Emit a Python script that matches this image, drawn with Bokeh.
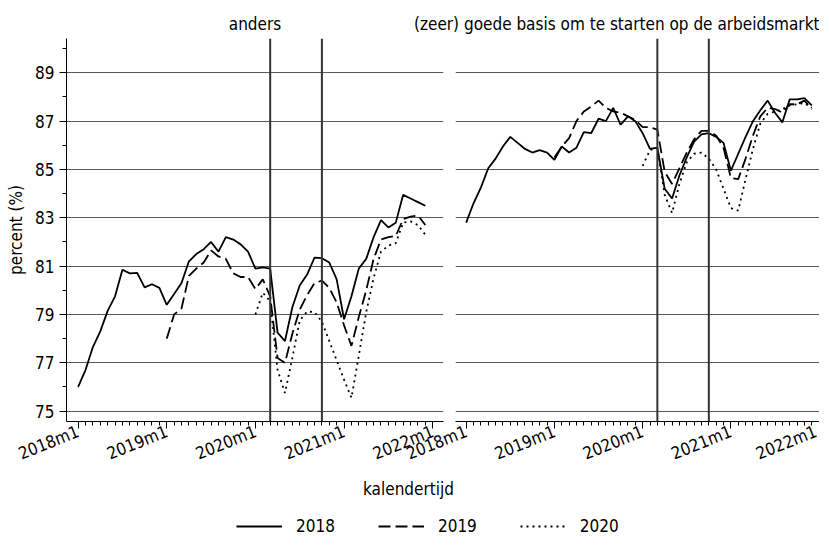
import math
from bokeh.plotting import figure
from bokeh.models import Range1d, FixedTicker, Span, Legend, LegendItem, Label, Grid
from bokeh.layouts import column, row
from bokeh.embed import file_html
from bokeh.resources import INLINE

FONT = "DejaVu Sans Condensed, Roboto"

# ---------------- data ----------------
tick_months = [0, 12, 24, 36, 48]
tick_labels = ["2018m1", "2019m1", "2020m1", "2021m1", "2022m1"]
minor_months = list(range(0, 49))
y_ticks = [75, 77, 79, 81, 83, 85, 87, 89]
y_minor = [74, 76, 78, 80, 82, 84, 86, 88, 90]
event_months = [26, 33]          # 2020m3, 2020m10
panel_titles = ["anders", "(zeer) goede basis om te starten op de arbeidsmarkt"]
cohorts = ["2018", "2019", "2020"]
cohort_start = [0, 12, 24]       # months since 2018m1

anders_2018 = [76.0, 76.7, 77.65, 78.3, 79.15, 79.75, 80.85, 80.7, 80.72, 80.12, 80.25, 80.1,
               79.4, 79.85, 80.3, 81.2, 81.5, 81.7, 82.0, 81.6, 82.2, 82.1, 81.9, 81.6,
               80.9, 80.95, 80.9, 78.25, 77.9, 79.3, 80.2, 80.65, 81.35, 81.33, 81.15, 80.45,
               78.8, 79.75, 80.9, 81.3, 82.2, 82.9, 82.6, 82.8, 83.95, 83.8, 83.65, 83.5]
anders_2019 = [78.0, 79.0, 79.25, 80.6, 80.9, 81.15, 81.65, 81.4, 81.3, 80.7, 80.55, 80.55,
               80.05, 80.45, 79.75, 77.2, 77.0, 78.2, 79.2, 79.8, 80.3, 80.4, 80.1, 79.5,
               78.55, 77.7, 78.9, 80.0, 81.3, 82.1, 82.2, 82.25, 82.95, 83.05, 83.1, 82.7]
anders_2020 = [79.0, 79.9, 79.55, 76.7, 75.75, 77.2, 78.75, 79.12, 79.1, 78.7, 77.9, 77.1,
               76.3, 75.55, 77.3, 79.1, 80.5, 81.6, 81.85, 81.95, 82.8, 82.85, 82.7, 82.3]

basis_2018 = [82.8, 83.6, 84.25, 85.05, 85.45, 85.95, 86.35, 86.1, 85.85, 85.7, 85.8, 85.7,
              85.4, 85.95, 85.7, 85.9, 86.55, 86.5, 87.1, 87.0, 87.55, 86.85, 87.2, 87.0,
              86.5, 85.85, 85.9, 84.2, 83.8, 84.75, 85.5, 86.15, 86.45, 86.5, 86.35, 86.1,
              84.95, 85.65, 86.35, 87.0, 87.45, 87.85, 87.35, 86.95, 87.9, 87.9, 87.95, 87.65]
basis_2019 = [85.5, 85.95, 86.3, 87.0, 87.4, 87.6, 87.85, 87.55, 87.4, 87.35, 87.2, 87.05,
              86.75, 86.75, 86.65, 84.9, 84.4, 85.05, 85.7, 86.25, 86.6, 86.6, 86.4, 85.9,
              84.65, 84.6, 85.45, 86.4, 87.2, 87.55, 87.5, 87.35, 87.7, 87.7, 87.85, 87.5]
basis_2020 = [85.15, 85.8, 85.9, 83.95, 83.2, 84.4, 85.3, 85.65, 85.7, 85.45, 85.0, 84.2,
              83.4, 83.3, 84.6, 85.85, 86.9, 87.3, 87.4, 87.5, 87.65, 87.7, 87.75, 87.55]

panel_series = [[anders_2018, anders_2019, anders_2020],
                [basis_2018, basis_2019, basis_2020]]

# ---------------- styles ----------------
dashes = ["solid", "12 5", "2 4"]
LINE_W = 1.8
GRID_COLOR = "#595959"
TICK_FS = "17px"
TEXT_FS = "17px"


def style_xaxis(ax):
    ax.ticker = FixedTicker(ticks=tick_months, minor_ticks=minor_months)
    ax.major_label_overrides = {m: l for m, l in zip(tick_months, tick_labels)}
    ax.major_label_orientation = math.radians(22)
    ax.axis_line_color = "black"
    ax.major_tick_line_color = "black"
    ax.minor_tick_line_color = "black"
    ax.major_tick_out = 7
    ax.major_tick_in = 0
    ax.minor_tick_out = 4
    ax.minor_tick_in = 0
    ax.major_label_standoff = 2
    ax.major_label_text_font = FONT
    ax.major_label_text_font_size = TICK_FS
    ax.major_label_text_color = "black"


def make_panel(idx, x_range, frame_w, border_left, border_right, margin):
    p = figure(frame_width=frame_w, frame_height=383, x_range=x_range,
               y_range=Range1d(74.57, 90.42),
               output_backend="svg", toolbar_location=None,
               y_axis_location="left" if idx == 0 else None,
               min_border_left=border_left, min_border_right=border_right,
               min_border_top=31, min_border_bottom=50, margin=margin)
    p.outline_line_color = None
    p.title.text = panel_titles[idx]
    p.title.align = "center" if idx == 0 else "right"
    p.title.standoff = 10
    p.title.text_font = FONT
    p.title.text_font_size = TEXT_FS
    p.title.text_font_style = "normal"
    p.title.text_color = "black"
    if idx == 1:
        p.background_fill_color = None
        p.border_fill_color = None
    p.xgrid.visible = False
    p.ygrid.visible = False
    p.add_layout(Grid(dimension=1, ticker=FixedTicker(ticks=y_ticks),
                      grid_line_color=GRID_COLOR, grid_line_width=1))
    style_xaxis(p.xaxis[0])
    if idx == 0:
        ay = p.yaxis[0]
        ay.ticker = FixedTicker(ticks=y_ticks, minor_ticks=y_minor)
        ay.axis_line_color = "black"
        ay.major_tick_line_color = "black"
        ay.minor_tick_line_color = "black"
        ay.major_tick_out = 7
        ay.major_tick_in = 0
        ay.minor_tick_out = 4
        ay.minor_tick_in = 0
        ay.major_label_standoff = 5
        ay.major_label_text_font = FONT
        ay.major_label_text_font_size = TICK_FS
        ay.major_label_text_color = "black"
        ay.axis_label = "percent (%)"
        ay.axis_label_text_font = FONT
        ay.axis_label_text_font_size = TEXT_FS
        ay.axis_label_text_font_style = "normal"
        ay.axis_label_text_color = "black"
        ay.axis_label_standoff = 6
    for m in event_months:
        p.add_layout(Span(location=m, dimension="height", line_color="#333333", line_width=2))
    for vals, start, dash in zip(panel_series[idx], cohort_start, dashes):
        months = list(range(start, start + len(vals)))
        p.line(months, vals, line_color="black", line_width=LINE_W, line_dash=dash)
    return p


left = make_panel(0, Range1d(-1.57, 49.46), 377, 58, 7, (6, 0, 0, 3))
right = make_panel(1, Range1d(-1.45, 48.05), 364, 67, 0, (6, 0, 0, -62))

# bottom strip: x-axis title and legend
bottom = figure(width=813, height=61, x_range=Range1d(0, 1), y_range=Range1d(0, 1),
                output_backend="svg", toolbar_location=None,
                x_axis_location=None, y_axis_location=None,
                min_border=0)
bottom.outline_line_color = None
bottom.xgrid.visible = False
bottom.ygrid.visible = False
bottom.add_layout(Label(x=408, y=48, x_units="screen", y_units="screen", text="kalendertijd",
                        text_align="center", text_baseline="middle", text_font=FONT,
                        text_font_size=TEXT_FS, text_color="black"))
items = []
for name, dash, vals, start in zip(cohorts, dashes, panel_series[0], cohort_start):
    # real series drawn far outside this strip's ranges: only the legend samples show
    months = list(range(start, start + len(vals)))
    r = bottom.line(months, vals, line_color="black", line_width=LINE_W, line_dash=dash)
    items.append(LegendItem(label=name, renderers=[r]))
leg = Legend(items=items, orientation="horizontal", location=(236, 0),
             glyph_width=46, glyph_height=20, label_standoff=14, spacing=43,
             padding=0, margin=0, border_line_color=None, background_fill_alpha=0,
             label_text_font=FONT, label_text_font_size=TICK_FS, label_text_color="black")
bottom.add_layout(leg)

layout = column(row(left, right), bottom)
open("out.html", "w").write(file_html(layout, INLINE))
